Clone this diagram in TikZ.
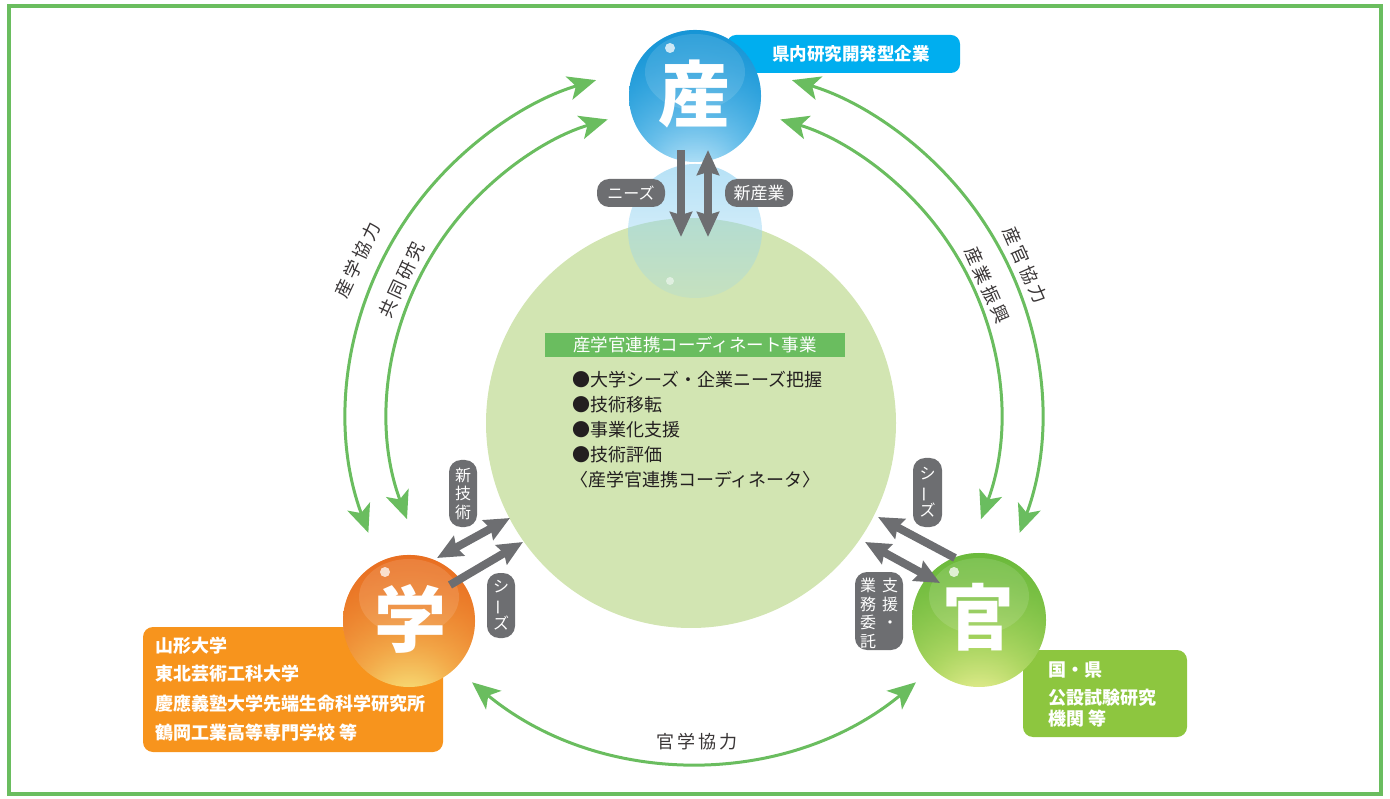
\documentclass[tikz,border=0pt]{standalone}
\usepackage{fontspec}
\usepackage{graphicx}
\newfontfamily\jp{Noto Sans CJK JP}
\newfontfamily\jpl{Noto Sans CJK JP}[LetterSpace=18]
\usetikzlibrary{arrows.meta,fadings}
\definecolor{lgreen}{RGB}{106,189,95}
\definecolor{cgreen}{RGB}{210,229,178}
\definecolor{pgray}{RGB}{109,110,113}
\definecolor{bbox}{RGB}{0,174,239}
\definecolor{obox}{RGB}{247,148,29}
\definecolor{gbox}{RGB}{141,198,63}
\definecolor{txt}{RGB}{35,31,32}
\definecolor{sa0}{RGB}{200,234,250}
\definecolor{sa1}{RGB}{118,198,238}
\definecolor{sa2}{RGB}{34,160,221}
\definecolor{sa3}{RGB}{14,142,210}
\definecolor{ga0}{RGB}{248,232,128}
\definecolor{ga1}{RGB}{245,180,80}
\definecolor{ga2}{RGB}{238,128,42}
\definecolor{ga3}{RGB}{230,100,28}
\definecolor{ka0}{RGB}{236,240,150}
\definecolor{ka1}{RGB}{186,220,106}
\definecolor{ka2}{RGB}{132,196,72}
\definecolor{ka3}{RGB}{92,180,52}
\definecolor{refl}{RGB}{150,212,242}
\pgfdeclareradialshading{sanball}{\pgfpoint{0bp}{-34bp}}{color(0bp)=(sa0); color(16bp)=(sa1); color(36bp)=(sa2); color(50bp)=(sa3)}
\pgfdeclareradialshading{gakuball}{\pgfpoint{0bp}{-34bp}}{color(0bp)=(ga0); color(16bp)=(ga1); color(36bp)=(ga2); color(50bp)=(ga3)}
\pgfdeclareradialshading{kanball}{\pgfpoint{0bp}{-34bp}}{color(0bp)=(ka0); color(16bp)=(ka1); color(36bp)=(ka2); color(50bp)=(ka3)}
\tikzfading[name=topdark, top color=transparent!35, bottom color=transparent!100]
\tikzfading[name=reflfade, top color=transparent!30, bottom color=transparent!80]
\begin{document}
\begin{tikzpicture}[x=1pt,y=-1pt,
  ballnode/.style={circle, minimum size=#1, inner sep=0pt, outer sep=0pt},
  bigchar/.style={text=white, font=\jp\bfseries\fontsize{72}{72}\selectfont, inner sep=0pt},
  garc/.style={draw=lgreen, line width=3pt, {Stealth[length=28pt,width=24pt,inset=7pt]}-{Stealth[length=28pt,width=24pt,inset=7pt]}},
  gone/.style={draw=pgray, line width=8pt, -{Stealth[length=25pt,width=22pt,inset=3pt]}},
  gtwo/.style={draw=pgray, line width=8pt, {Stealth[length=25pt,width=22pt,inset=3pt]}-{Stealth[length=25pt,width=22pt,inset=3pt]}},
  pill/.style={fill=pgray, rounded corners=12pt, inner sep=0pt},
  pilltxt/.style={text=white, font=\jp\fontsize{16}{18.5}\selectfont, inner sep=0pt, align=center},
  arclab/.style={text=txt!90, font=\jpl\fontsize{18}{18}\selectfont, inner sep=0pt},
  boxtxt/.style={text=white, font=\jp\bfseries\fontsize{18}{20}\selectfont, inner sep=0pt, anchor=west},
  listtxt/.style={text=txt, font=\jp\fontsize{18}{18}\selectfont, inner sep=0pt, anchor=west}
]
\useasboundingbox (0,0) rectangle (1390,799);
% outer frame
\draw[lgreen, line width=4pt] (9,6) rectangle (1381,794);

% green arcs (concentric about (694,413))
\coordinate (lo) at ({694+347*cos(200.2)},{413-347*sin(200.2)});
\coordinate (li) at ({694+306*cos(200.3)},{413-306*sin(200.3)});
\coordinate (ro) at ({694+347*cos(-20.2)},{413-347*sin(-20.2)});
\coordinate (ri) at ({694+306*cos(-20.3)},{413-306*sin(-20.3)});
\coordinate (bo) at ({694+349*cos(230.5)},{413-349*sin(230.5)});
\draw[garc] (lo) arc[start angle=-200.2, end angle=-106.4, radius=347];
\draw[garc] (li) arc[start angle=-200.3, end angle=-106.4, radius=306];
\draw[garc] (ro) arc[start angle=20.2, end angle=-73.6, radius=347];
\draw[garc] (ri) arc[start angle=20.3, end angle=-73.6, radius=306];
\draw[garc] (bo) arc[start angle=-230.5, end angle=-309.5, radius=349];

% central circle
\node[ballnode=410pt, fill=cgreen] (core) at (691,423) {};
% reflection sphere
\node[ballnode=134pt] (refl) at (695,231) {};
\fill[refl, path fading=reflfade] (refl.center) circle (67);
\fill[white, opacity=0.5] (670,281) circle (4);

% label boxes
\node[fill=bbox, rounded corners=9pt, minimum width=233pt, minimum height=38pt, inner sep=0pt] (sanbox) at (843.5,54) {};
\node[text=white, font=\jp\bfseries\fontsize{17.5}{18}\selectfont, inner sep=0pt] (santxt) at (851,54) {県内研究開発型企業};
\node[fill=obox, rounded corners=10pt, minimum width=300pt, minimum height=125pt, inner sep=0pt] (gakubox) at (293,689.5) {};
\node[boxtxt] (g1) at (155,646) {山形大学};
\node[boxtxt] (g2) at (155,674) {東北芸術工科大学};
\node[boxtxt] (g3) at (155,703.5) {慶應義塾大学先端生命科学研究所};
\node[boxtxt] (g4) at (155,733) {鶴岡工業高等専門学校 等};
\node[fill=gbox, rounded corners=10pt, minimum width=164pt, minimum height=87pt, inner sep=0pt] (kanbox) at (1105,693.5) {};
\node[boxtxt] (k1) at (1048,670) {国・県};
\node[boxtxt] (k2) at (1048,698) {公設試験研究};
\node[boxtxt] (k3) at (1048,719) {機関 等};

% spheres
\node[ballnode=132pt, shade, shading=sanball] (san) at (695,96) {};
\fill[sa3, path fading=topdark] (san.center) circle (66);
\fill[white, opacity=0.12] (695,72) ellipse (50 and 38);
\fill[white, opacity=0.75] (670,48) circle (5);
\node[bigchar] (santx) at (694,94) {産};

\node[ballnode=132pt, shade, shading=gakuball] (gaku) at (409,621) {};
\fill[ga3, path fading=topdark] (gaku.center) circle (66);
\fill[white, opacity=0.12] (409,597) ellipse (50 and 38);
\fill[white, opacity=0.75] (385,572) circle (5);
\node[bigchar] (gakutx) at (410,619) {学};

\node[ballnode=134pt, shade, shading=kanball] (kan) at (979,620) {};
\fill[ka3, path fading=topdark] (kan.center) circle (67);
\fill[white, opacity=0.12] (979,596) ellipse (50 and 38);
\fill[white, opacity=0.75] (954,572) circle (5);
\node[bigchar] (kantx) at (978,617) {官};

% gray arrows
\coordinate (n1) at (681,150); \coordinate (n2) at (681,237);
\coordinate (s1) at (708,150); \coordinate (s2) at (708,237);
\draw[gone] (n1) -- (n2);
\draw[gtwo] (s1) -- (s2);
\coordinate (a1) at (437,558); \coordinate (a2) at (510,518);
\coordinate (b1) at (450,585); \coordinate (b2) at (523,542);
\draw[gtwo] (a1) -- (a2);
\draw[gone] (b1) -- (b2);
\coordinate (c1) at (955,558); \coordinate (c2) at (878,517);
\coordinate (d1) at (940,583); \coordinate (d2) at (865,542);
\draw[gone] (c1) -- (c2);
\draw[gtwo] (d1) -- (d2);

% pills
\node[pill, minimum width=68pt, minimum height=28pt] (p1) at (631,193) {};
\node[pilltxt] (p1t) at (p1.center) {ニーズ};
\node[pill, minimum width=68pt, minimum height=28pt] (p2) at (759,193) {};
\node[pilltxt, font=\jp\fontsize{17}{18}\selectfont] (p2t) at (p2.center) {新産業};
\node[pill, minimum width=28pt, minimum height=67pt] (p3) at (463,493.5) {};
\node[pilltxt] (p3t) at (p3.center) {新\\技\\術};
\node[pill, minimum width=28pt, minimum height=65pt] (p4) at (501,605.5) {};
\node[pilltxt] (p4t) at (p4.center) {シ\\\rotatebox[origin=c]{90}{ー}\\ズ};
\node[pill, minimum width=29pt, minimum height=69pt] (p5) at (927.5,492.5) {};
\node[pilltxt] (p5t) at (p5.center) {シ\\\rotatebox[origin=c]{90}{ー}\\ズ};
\node[pill, minimum width=48pt, minimum height=78pt] (p6) at (879,611) {};
\node[pilltxt, anchor=north] (p6r) at (890,578) {支\\援\\・};
\node[pilltxt, anchor=north] (p6l) at (868,578) {業\\務\\委\\託};

% arc labels
\node[arclab, rotate=65] (l1) at (358,260) {産学協力};
\node[arclab, rotate=65] (l2) at (402,280) {共同研究};
\node[arclab, rotate=-66] (l3) at (1025,265) {産官協力};
\node[arclab, rotate=-66] (l4) at (987,285) {産業振興};
\node[arclab] (l5) at (697,742) {官学協力};

% central text
\node[fill=lgreen, minimum width=300pt, minimum height=24pt, inner sep=0pt] (title) at (695,345) {};
\node[text=white, font=\jp\fontsize{17.5}{18}\selectfont, inner sep=0pt] (titletx) at (title.center) {産学官連携コーディネート事業};
\node[listtxt] (t1) at (572,380) {●大学シーズ・企業ニーズ把握};
\node[listtxt] (t2) at (572,405) {●技術移転};
\node[listtxt] (t3) at (572,430) {●事業化支援};
\node[listtxt] (t4) at (572,455) {●技術評価};
\node[listtxt] (t5) at (570,480) {〈産学官連携コーディネータ〉};
\end{tikzpicture}
\end{document}
